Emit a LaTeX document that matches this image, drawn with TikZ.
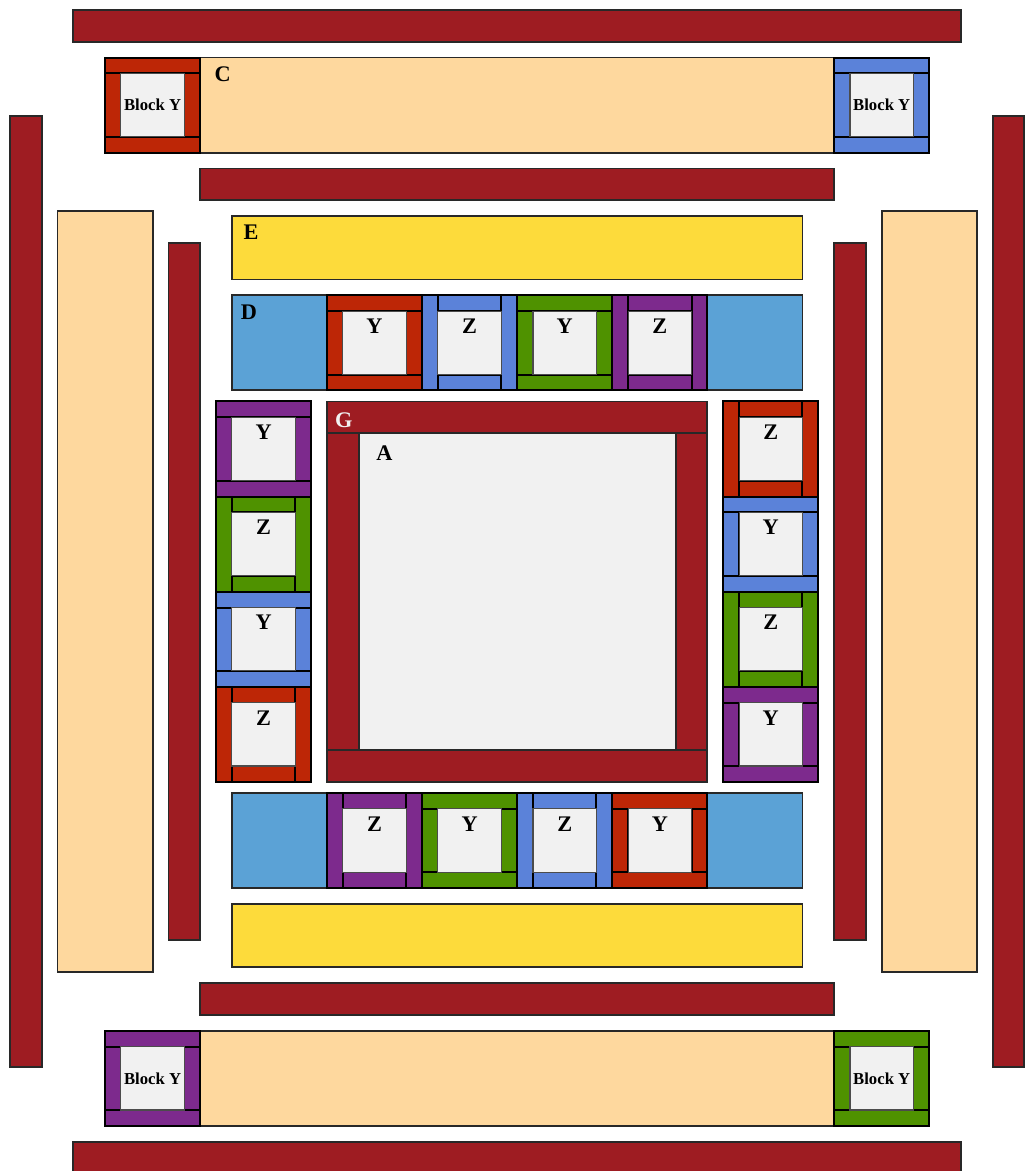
\documentclass[tikz,border=0pt]{standalone}
\usepackage{fontspec}
\setmainfont{Liberation Serif}

\definecolor{sashred}{RGB}{158,28,34}
\definecolor{cream}{RGB}{254,216,158}
\definecolor{sunny}{RGB}{253,219,59}
\definecolor{skyblue}{RGB}{91,162,214}
\definecolor{blockred}{RGB}{189,38,6}
\definecolor{blockblue}{RGB}{91,130,217}
\definecolor{blockgreen}{RGB}{79,146,0}
\definecolor{blockpurple}{RGB}{125,42,141}
\definecolor{paper}{RGB}{241,241,241}
\definecolor{edge}{RGB}{40,40,40}

% block Y: bars across top and bottom
\newcommand{\blockY}[3]{%
  \begin{scope}[shift={(#1,#2)}]
    \draw[piece, fill=#3] (0,0) rectangle (3,0.5);
    \draw[piece, fill=#3] (0,2.5) rectangle (3,3);
    \draw[piece, fill=#3] (0,0.5) rectangle (0.5,2.5);
    \draw[piece, fill=#3] (2.5,0.5) rectangle (3,2.5);
    \draw[centre] (0.5,0.5) rectangle (2.5,2.5);
  \end{scope}}
% block Z: bars down left and right
\newcommand{\blockZ}[3]{%
  \begin{scope}[shift={(#1,#2)}]
    \draw[piece, fill=#3] (0,0) rectangle (0.5,3);
    \draw[piece, fill=#3] (2.5,0) rectangle (3,3);
    \draw[piece, fill=#3] (0.5,0) rectangle (2.5,0.5);
    \draw[piece, fill=#3] (0.5,2.5) rectangle (2.5,3);
    \draw[centre] (0.5,0.5) rectangle (2.5,2.5);
  \end{scope}}

\begin{document}
\begin{tikzpicture}[x=1cm, y=1cm,
    strip/.style={draw=edge, line width=1.6pt},
    piece/.style={draw=black, line width=1.8pt},
    centre/.style={draw=black!70, fill=paper, line width=1pt},
    tag/.style={font=\fontsize{20}{24}\selectfont\bfseries, inner sep=0pt},
    small tag/.style={font=\fontsize{15}{18}\selectfont\bfseries, inner sep=0pt}]
    \clip (-16.315,-18.275) rectangle (16.24,18.665);

    % OUTER: sashing bars
        \draw[strip, fill=sashred] (-14,17.35) rectangle (14,18.35);
        \draw[strip, fill=sashred] (-14,-18.35) rectangle (14,-17.35);
        \draw[strip, fill=sashred] (-16,-15) rectangle (-15,15);
        \draw[strip, fill=sashred] (15,-15) rectangle (16,15);
        \draw[strip, fill=sashred] (-10,12.35) rectangle (10,13.35);
        \draw[strip, fill=sashred] (-10,-13.35) rectangle (10,-12.35);
        \draw[strip, fill=sashred] (-11,-11) rectangle (-10,11);
        \draw[strip, fill=sashred] (10,-11) rectangle (11,11);

    % Side panels
        \draw[strip, fill=cream] (-14.5,-12) rectangle (-11.5,12);
        \draw[strip, fill=cream] (11.5,-12) rectangle (14.5,12);

    % C rows with corner blocks
        \draw[strip, fill=cream] (-10,13.85) rectangle (10,16.85);
        \draw[strip, fill=cream] (-10,-16.85) rectangle (10,-13.85);
        \node[tag, anchor=north west] (labelC) at (-9.55,16.56) {C};
        \foreach \x/\y/\c/\n in {-13/13.85/blockred/cornerA, 10/13.85/blockblue/cornerB,
                                 -13/-16.85/blockpurple/cornerC, 10/-16.85/blockgreen/cornerD} {
            \blockY{\x}{\y}{\c}
            \node[small tag] (\n) at (\x+1.5,\y+1.5) {Block Y};
        }

    % E and D rows
        \draw[strip, fill=sunny] (-9,9.85) rectangle (9,11.85);
        \draw[strip, fill=sunny] (-9,-11.85) rectangle (9,-9.85);
        \node[tag, anchor=north west] (labelE) at (-8.64,11.57) {E};
        \draw[strip, fill=skyblue] (-9,6.35) rectangle (9,9.35);
        \draw[strip, fill=skyblue] (-9,-9.35) rectangle (9,-6.35);
        \node[tag, anchor=north west] (labelD) at (-8.72,9.04) {D};

    % CENTRE: G frame round A
        \draw[strip, fill=sashred] (-6,5) rectangle (6,6);
        \draw[strip, fill=sashred] (-6,-6) rectangle (6,-5);
        \draw[strip, fill=sashred] (-6,-5) rectangle (-5,5);
        \draw[strip, fill=sashred] (5,-5) rectangle (6,5);
        \draw[strip, fill=paper] (-5,-5) rectangle (5,5);
        \node[tag, anchor=north west, text=paper] (labelG) at (-5.75,5.65) {G};
        \node[tag, anchor=north west] (labelA) at (-4.45,4.6) {A};

    % Blocks round the centre
        \foreach \x/\y/\c/\n in {-6/6.35/blockred/yTopA, 0/6.35/blockgreen/yTopB,
                                 -3/-9.35/blockgreen/yBotA, 3/-9.35/blockred/yBotB,
                                 -9.5/3/blockpurple/yLeftA, -9.5/-3/blockblue/yLeftB,
                                 6.5/0/blockblue/yRightA, 6.5/-6/blockpurple/yRightB} {
            \blockY{\x}{\y}{\c}
            \node[tag, anchor=north] (\n) at (\x+1.5,\y+2.26) {Y};
        }
        \foreach \x/\y/\c/\n in {-3/6.35/blockblue/zTopA, 3/6.35/blockpurple/zTopB,
                                 -6/-9.35/blockpurple/zBotA, 0/-9.35/blockblue/zBotB,
                                 -9.5/0/blockgreen/zLeftA, -9.5/-6/blockred/zLeftB,
                                 6.5/3/blockred/zRightA, 6.5/-3/blockgreen/zRightB} {
            \blockZ{\x}{\y}{\c}
            \node[tag, anchor=north] (\n) at (\x+1.5,\y+2.26) {Z};
        }
\end{tikzpicture}
\end{document}
